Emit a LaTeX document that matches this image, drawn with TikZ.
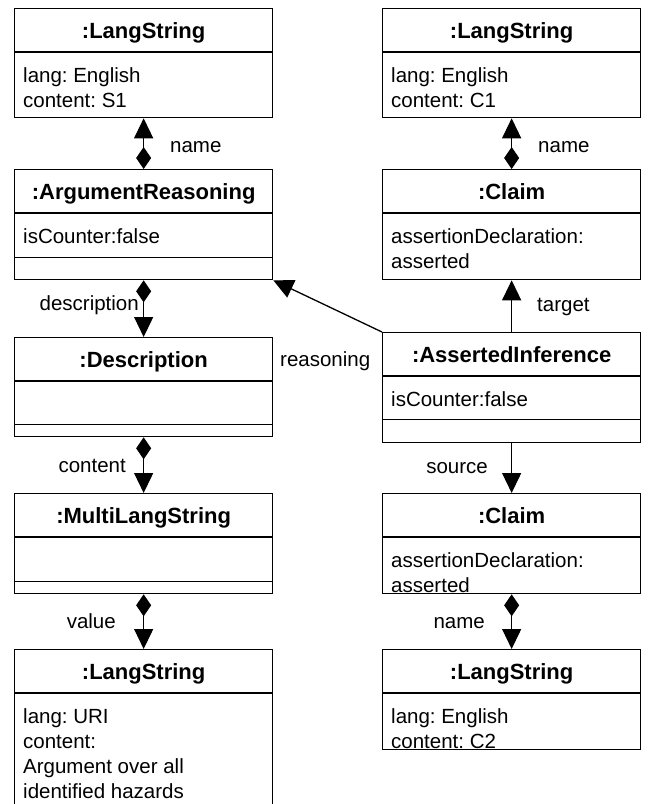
\documentclass[tikz,border=0pt]{standalone}
\usepackage{fontspec}
\setmainfont{Liberation Sans}
\usetikzlibrary{arrows.meta}
\frenchspacing

\begin{document}
\begin{tikzpicture}[x=1pt,y=-1pt,
  objbox/.style={draw,line width=1.3pt,minimum width=258pt,inner sep=0pt,anchor=north west},
  objtitle/.style={font=\fontsize{22}{26}\selectfont\bfseries,anchor=base,inner sep=0pt},
  attrs/.style={font=\fontsize{20.5}{25}\selectfont,align=left,anchor=north west,inner sep=0pt},
  role/.style={font=\fontsize{20.5}{25}\selectfont,inner sep=0pt},
  comp/.style={line width=1.3pt,{Diamond[length=22pt,width=15pt]}-{Triangle[length=20pt,width=19pt]}},
  assoc/.style={line width=1.3pt,-{Triangle[length=20pt,width=19pt]}}]

\useasboundingbox (0,0) rectangle (649,804);
\clip (0,0) rectangle (649,804);

% left column
\node[objbox,minimum height=109pt] (ls1) at (14,8) {};
\node[objbox,minimum height=110pt] (ar) at (14,169) {};
\node[objbox,minimum height=99pt] (desc) at (14,337) {};
\node[objbox,minimum height=100pt] (mls) at (14,493) {};
\node[objbox,minimum height=163pt] (ls2) at (14,649) {};

% right column
\node[objbox,minimum height=109pt] (ls3) at (382,8) {};
\node[objbox,minimum height=110pt] (clm1) at (382,169) {};
\node[objbox,minimum height=110pt] (ai) at (382,332) {};
\node[objbox,minimum height=100pt] (clm2) at (382,493) {};
\node[objbox,minimum height=100pt] (ls4) at (382,649) {};

\foreach \b in {ls1,ar,desc,mls,ls2,ls3,clm1,ai,clm2,ls4}
  \draw[line width=1.3pt] ([yshift=-44pt]\b.north west) -- ([yshift=-44pt]\b.north east);
\foreach \b/\d in {ar/23,desc/13,mls/13,ai/24}
  \draw[line width=1.3pt] ([yshift=\d pt]\b.south west) -- ([yshift=\d pt]\b.south east);

\node[objtitle] (ls1t) at ([yshift=-30pt]ls1.north) {:LangString};
\node[objtitle] (art) at ([yshift=-30pt]ar.north) {:ArgumentReasoning};
\node[objtitle] (desct) at ([yshift=-30pt]desc.north) {:Description};
\node[objtitle] (mlst) at ([yshift=-30pt]mls.north) {:MultiLangString};
\node[objtitle] (ls2t) at ([yshift=-30pt]ls2.north) {:LangString};
\node[objtitle] (ls3t) at ([yshift=-30pt]ls3.north) {:LangString};
\node[objtitle] (clm1t) at ([yshift=-30pt]clm1.north) {:Claim};
\node[objtitle] (ait) at ([yshift=-30pt]ai.north) {:AssertedInference};
\node[objtitle] (clm2t) at ([yshift=-30pt]clm2.north) {:Claim};
\node[objtitle] (ls4t) at ([yshift=-30pt]ls4.north) {:LangString};

\node[attrs] (ls1a) at ([xshift=9pt,yshift=-59pt]ls1.north west) {lang: English\\content: S1};
\node[attrs] (ara) at ([xshift=9pt,yshift=-59pt]ar.north west) {isCounter:false};
\node[attrs] (ls2a) at ([xshift=9pt,yshift=-59pt]ls2.north west) {lang: URI\\content:\\Argument over all\\identified hazards};
\node[attrs] (ls3a) at ([xshift=9pt,yshift=-59pt]ls3.north west) {lang: English\\content: C1};
\node[attrs] (clm1a) at ([xshift=9pt,yshift=-59pt]clm1.north west) {assertionDeclaration:\\asserted};
\node[attrs] (aia) at ([xshift=9pt,yshift=-59pt]ai.north west) {isCounter:false};
\node[attrs] (clm2a) at ([xshift=9pt,yshift=-59pt]clm2.north west) {assertionDeclaration:\\asserted};
\node[attrs] (ls4a) at ([xshift=9pt,yshift=-59pt]ls4.north west) {lang: English\\content: C2};

% links
\draw[comp] (ar.north) -- (ls1.south);
\draw[comp] (ar.south) -- (desc.north);
\draw[comp] (desc.south) -- (mls.north);
\draw[comp] (mls.south) -- (ls2.north);
\draw[comp] (clm1.north) -- (ls3.south);
\draw[comp] (clm2.south) -- (ls4.north);
\draw[assoc] (ai.north) -- (clm1.south);
\draw[assoc] (ai.south) -- (clm2.north);
\draw[assoc] (ai.north west) -- (ar.south east);

\node[role,anchor=base west] (rname1) at (170,152) {name};
\node[role,anchor=base east] (rdesc) at (139,310) {description};
\node[role,anchor=base east] (rcont) at (126,472) {content};
\node[role,anchor=base east] (rval) at (116,628) {value};
\node[role,anchor=base west] (rname2) at (538,152) {name};
\node[role,anchor=base west] (rtarget) at (537,311) {target};
\node[role,anchor=base west] (rreason) at (280,366) {reasoning};
\node[role,anchor=base east] (rsource) at (488,473) {source};
\node[role,anchor=base east] (rname3) at (485,628) {name};

\end{tikzpicture}
\end{document}
